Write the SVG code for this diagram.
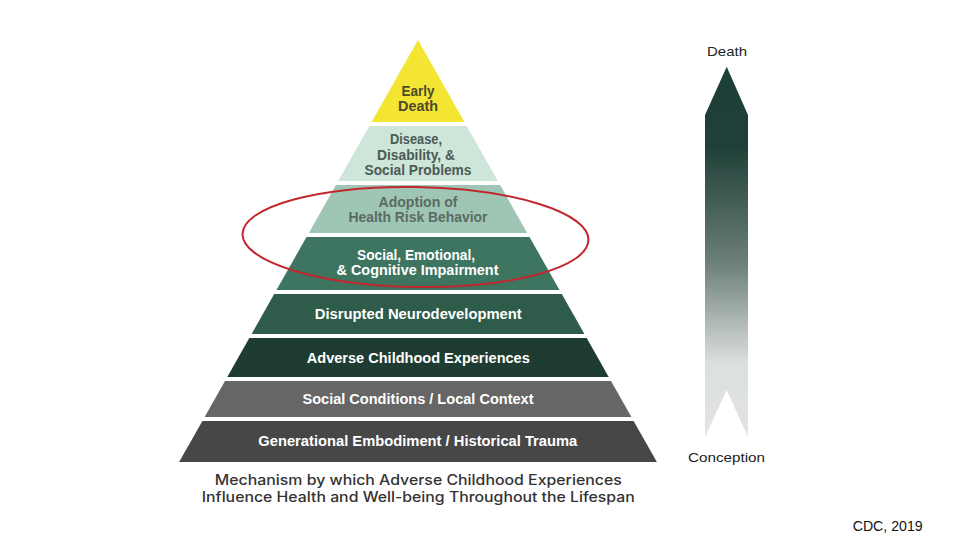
<svg xmlns="http://www.w3.org/2000/svg" width="960" height="540" viewBox="0 0 960 540">
  <defs>
    <linearGradient id="arrowGrad" gradientUnits="userSpaceOnUse" x1="0" y1="66" x2="0" y2="437">
      <stop offset="0" stop-color="#1e3f37"/>
      <stop offset="0.22" stop-color="#1f4038"/>
      <stop offset="0.53" stop-color="#6c7f79"/>
      <stop offset="0.8" stop-color="#dcdfdf"/>
      <stop offset="1" stop-color="#e2e4e4"/>
    </linearGradient>
    <style>
      .lbl { font-family: "Liberation Sans", Arial, sans-serif; font-weight: bold; font-size: 14.5px; text-anchor: middle; }
      .w { fill: #ffffff; }
      .cap { font-family: Inter, "Liberation Sans", Arial, sans-serif; font-weight: 500; font-size: 14px; fill: #333333; text-anchor: middle; }
      .side { font-family: "Liberation Sans", Arial, sans-serif; font-size: 13.5px; fill: #222222; text-anchor: middle; }
    </style>
  </defs>
  <rect width="960" height="540" fill="#ffffff"/>

  <g id="level-early-death">
    <polygon points="418,40 464.4,122 371.6,122" fill="#f3e532"/>
    <text class="lbl" fill="#4d4a2c" x="418" y="95.5" font-size="14" textLength="33" lengthAdjust="spacingAndGlyphs">Early</text>
    <text class="lbl" fill="#4d4a2c" x="418" y="111" font-size="14" textLength="40" lengthAdjust="spacingAndGlyphs">Death</text>
  </g>
  <g id="level-disease">
    <polygon points="369.3,126 466.7,126 497.8,181 338.2,181" fill="#cee5d9"/>
    <text class="lbl" fill="#4b5a54" x="416" y="144.3" textLength="52" lengthAdjust="spacingAndGlyphs">Disease,</text>
    <text class="lbl" fill="#4b5a54" x="416" y="160" textLength="78" lengthAdjust="spacingAndGlyphs">Disability, &amp;</text>
    <text class="lbl" fill="#4b5a54" x="418" y="175" textLength="107" lengthAdjust="spacingAndGlyphs">Social Problems</text>
  </g>
  <g id="level-health-risk">
    <polygon points="335.9,185 500.1,185 527.2,233 308.8,233" fill="#9fc6b4"/>
    <text class="lbl" fill="#5a6b64" x="418" y="206.7" textLength="79" lengthAdjust="spacingAndGlyphs">Adoption of</text>
    <text class="lbl" fill="#5a6b64" x="418" y="221.7" textLength="139" lengthAdjust="spacingAndGlyphs">Health Risk Behavior</text>
  </g>
  <g id="level-impairment">
    <polygon points="306.5,237 529.5,237 559.5,290 276.5,290" fill="#3e7561"/>
    <text class="lbl w" x="416" y="260" textLength="118" lengthAdjust="spacingAndGlyphs">Social, Emotional,</text>
    <text class="lbl w" x="417.5" y="275" textLength="162" lengthAdjust="spacingAndGlyphs">&amp; Cognitive Impairment</text>
  </g>
  <g id="level-neurodevelopment">
    <polygon points="274.2,294 561.8,294 584.4,334 251.6,334" fill="#2e5b4a"/>
    <text class="lbl w" x="418.3" y="319.3" textLength="207" lengthAdjust="spacingAndGlyphs">Disrupted Neurodevelopment</text>
  </g>
  <g id="level-aces">
    <polygon points="249.3,338 586.7,338 608.7,377 227.3,377" fill="#1f3c33"/>
    <text class="lbl w" x="418.3" y="362.7" textLength="223" lengthAdjust="spacingAndGlyphs">Adverse Childhood Experiences</text>
  </g>
  <g id="level-social-conditions">
    <polygon points="225,381 611,381 631.4,417 204.6,417" fill="#666666"/>
    <text class="lbl w" x="418" y="404.3" textLength="231" lengthAdjust="spacingAndGlyphs">Social Conditions / Local Context</text>
  </g>
  <g id="level-generational">
    <polygon points="202.4,421 633.6,421 656.9,462 179.1,462" fill="#474747"/>
    <text class="lbl w" x="417.8" y="446" textLength="319" lengthAdjust="spacingAndGlyphs">Generational Embodiment / Historical Trauma</text>
  </g>

  <g id="caption">
    <text class="cap" x="418.3" y="484.5" textLength="407" lengthAdjust="spacingAndGlyphs">Mechanism by which Adverse Childhood Experiences</text>
    <text class="cap" x="418.3" y="502" textLength="433" lengthAdjust="spacingAndGlyphs">Influence Health and Well-being Throughout the Lifespan</text>
  </g>

  <g id="lifespan-arrow">
    <polygon points="726.7,66.7 748,115 748,437 726.7,390 705,437 705,115" fill="url(#arrowGrad)"/>
    <text class="side" x="727" y="55.7" textLength="40" lengthAdjust="spacingAndGlyphs">Death</text>
    <text class="side" x="726.5" y="462" textLength="77" lengthAdjust="spacingAndGlyphs">Conception</text>
  </g>

  <g id="connectors">
    <ellipse cx="415.5" cy="237" rx="173" ry="50" transform="rotate(1 415.5 237)" fill="none" stroke="#c0282d" stroke-width="2"/>
  </g>

  <g id="source">
    <text x="852.7" y="531" font-family="Liberation Sans, Arial, sans-serif" font-size="14" fill="#111111" textLength="70" lengthAdjust="spacingAndGlyphs">CDC, 2019</text>
  </g>
</svg>
